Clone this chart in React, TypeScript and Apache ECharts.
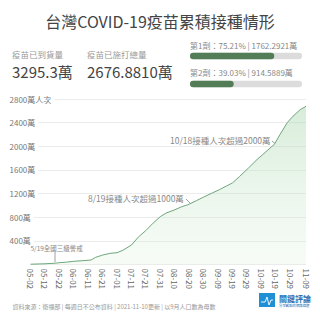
import React, { useEffect, useRef } from "react";
import * as echarts from "echarts";

const FONT = '"Noto Sans CJK TC", "Noto Sans", sans-serif';

const dates = ["05-02","05-12","05-19","05-22","05-27","06-01","06-08","06-13","06-16","06-21","06-26","07-01","07-05","07-11","07-16","07-21","07-26","07-31","08-04","08-10","08-15","08-19","08-25","08-30","09-05","09-10","09-15","09-19","09-24","09-30","10-06","10-10","10-16","10-18","10-22","10-27","10-31","11-05","11-09"];
const doses = [5,12,22,30,40,54,66,76,120,160,188,200,240,330,470,575,700,810,870,925,980,1010,1080,1140,1210,1266,1330,1380,1490,1630,1775,1860,1990,2030,2200,2400,2510,2620,2677];
const xTickLabels = ["05-02","05-12","05-22","06-01","06-11","06-21","07-01","07-11","07-21","07-31","08-10","08-20","08-30","09-09","09-19","09-29","10-09","10-19","10-29","11-08","11-09"];
const yTicks = [0,400,800,1200,1600,2000,2400,2800];
const doseNames = ["第1劑","第2劑"];
const dosePct = [75.21, 39.03];
const doseCount = ["1762.2921萬","914.5889萬"];
const delivered = "3295.3萬";
const administered = "2676.8810萬";

const START = new Date(2021, 4, 2).getTime();
const dayOf = (md: string) => {
  const [m, d] = md.split("-").map(Number);
  return Math.round((new Date(2021, m - 1, d).getTime() - START) / 86400000);
};

export default function App() {
  const ref = useRef<HTMLDivElement>(null);
  useEffect(() => {
    if (!ref.current) return;
    const chart = echarts.init(ref.current, null, { renderer: "svg" });
    const lineData = dates.map((d, i) => [dayOf(d), doses[i]]);
    const lastDay = dayOf("11-09");
    chart.setOption({
      animation: false,
      textStyle: { fontFamily: FONT },
      grid: [
        { left: 30.5, right: 14, top: 99, bottom: 55.5 },
        { left: 190, width: 112, top: 42, height: 56 },
      ],
      xAxis: [
        {
          type: "value",
          gridIndex: 0,
          min: 0,
          max: lastDay,
          interval: 10,
          splitLine: { show: false },
          axisLine: { show: false },
          axisTick: { show: false },
          axisLabel: {
            rotate: -90,
            margin: 4,
            fontSize: 8,
            color: "#666",
            fontFamily: FONT,
            showMaxLabel: true,
            formatter: (v: number) => (v === lastDay ? "11-09" : xTickLabels[Math.round(v / 10)] || ""),
          },
        },
        { type: "value", gridIndex: 1, min: 0, max: 100, show: false },
      ],
      yAxis: [
        {
          type: "value",
          gridIndex: 0,
          min: 0,
          max: 2800,
          interval: 400,
          axisLine: { show: false },
          axisTick: { show: false },
          splitLine: { lineStyle: { color: "#ececec", width: 1 } },
          axisLabel: {
            align: "left",
            margin: 21,
            fontSize: 8,
            color: "#777",
            fontFamily: FONT,
            backgroundColor: "#fff",
            padding: [1, 3, 1, 0],
            formatter: (v: number) =>
              v === 0 ? "" : v === yTicks[yTicks.length - 1] ? `${v}萬人次` : `${v}萬`,
          },
        },
        { type: "category", gridIndex: 1, data: doseNames, inverse: true, show: false },
      ],
      series: [
        {
          type: "line",
          xAxisIndex: 0,
          yAxisIndex: 0,
          data: lineData,
          symbol: "none",
          lineStyle: { color: "#6ea67a", width: 1 },
          areaStyle: {
            color: new echarts.graphic.LinearGradient(0, 0, 0, 1, [
              { offset: 0, color: "rgba(165,212,170,0.62)" },
              { offset: 1, color: "rgba(215,238,215,0.3)" },
            ]),
          },
          z: 3,
        },
        {
          type: "bar",
          xAxisIndex: 1,
          yAxisIndex: 1,
          data: dosePct,
          barWidth: 6.5,
          showBackground: true,
          backgroundStyle: { color: "#dcdcdc", borderRadius: 3.25 },
          itemStyle: { color: "#527d57", borderRadius: 3.25 },
        },
      ],
      graphic: [
        {
          type: "text", left: "center", top: 13,
          style: { text: "台灣COVID-19疫苗累積接種情形", fontSize: 16, fill: "#444", fontFamily: FONT },
        },
        { type: "text", x: 12, y: 54, style: { text: "疫苗已到貨量", fontSize: 8.5, fill: "#999", fontFamily: FONT, verticalAlign: "middle" } },
        { type: "text", x: 87, y: 54, style: { text: "疫苗已施打總量", fontSize: 8.5, fill: "#999", fontFamily: FONT, verticalAlign: "middle" } },
        { type: "text", x: 12, y: 71, style: { text: delivered, fontSize: 15, fill: "#444", fontFamily: FONT, verticalAlign: "middle" } },
        { type: "text", x: 87, y: 71, style: { text: administered, fontSize: 15, fill: "#444", fontFamily: FONT, verticalAlign: "middle" } },
        ...doseNames.map((n, i) => ({
          type: "text", x: 190, y: i === 0 ? 45 : 72.7,
          style: { text: `${n}：${dosePct[i].toFixed(2)}% | ${doseCount[i]}`, fontSize: 8, fill: "#888", fontFamily: FONT, verticalAlign: "middle" },
        })),
        // annotations
        { type: "text", x: 30.5, y: 247.5, style: { text: "5/19全國三級警戒", fontSize: 6.5, fill: "#888", fontFamily: FONT, verticalAlign: "middle" } },
        { type: "line", shape: { x1: 55, y1: 252, x2: 55, y2: 262 }, style: { stroke: "#888", lineWidth: 0.8 } },
        { type: "text", x: 88, y: 198, style: { text: "8/19接種人次超過1000萬", fontSize: 8.5, fill: "#888", fontFamily: FONT, verticalAlign: "middle" } },
        { type: "line", shape: { x1: 186, y1: 199, x2: 191, y2: 204 }, style: { stroke: "#888", lineWidth: 0.8 } },
        { type: "text", x: 170, y: 140, style: { text: "10/18接種人次超過2000萬", fontSize: 8.5, fill: "#888", fontFamily: FONT, verticalAlign: "middle" } },
        { type: "line", shape: { x1: 272, y1: 141, x2: 275, y2: 143.5 }, style: { stroke: "#888", lineWidth: 0.8 } },
        // footer
        { type: "text", x: 12.5, y: 306, style: { text: "資料來源：衛福部 | 每週日不公布資料 | 2021-11-10更新 | 以9月人口數為母數", fontSize: 6, fill: "#999", fontFamily: FONT, verticalAlign: "middle" } },
        { type: "rect", shape: { x: 259, y: 293, width: 16, height: 14 }, style: { fill: "#1f8fd6" } },
        { type: "polyline", shape: { points: [[261, 302], [265, 302], [267, 297], [269, 305], [271, 300], [273, 300]] }, style: { stroke: "#fff", lineWidth: 0.9, fill: null } },
        { type: "text", x: 279, y: 298, style: { text: "關鍵評論", fontSize: 8, fontWeight: "bold", fill: "#2b73b5", fontFamily: FONT, verticalAlign: "middle" } },
        { type: "text", x: 279, y: 305, style: { text: "分享觀點的網路媒體", fontSize: 3.4, fill: "#2b73b5", fontFamily: FONT, verticalAlign: "middle" } },
      ],
    });
    return () => chart.dispose();
  }, []);
  return <div ref={ref} style={{ width: 320, height: 320, position: "absolute", left: 0, top: 0, background: "#fff" }} />;
}
